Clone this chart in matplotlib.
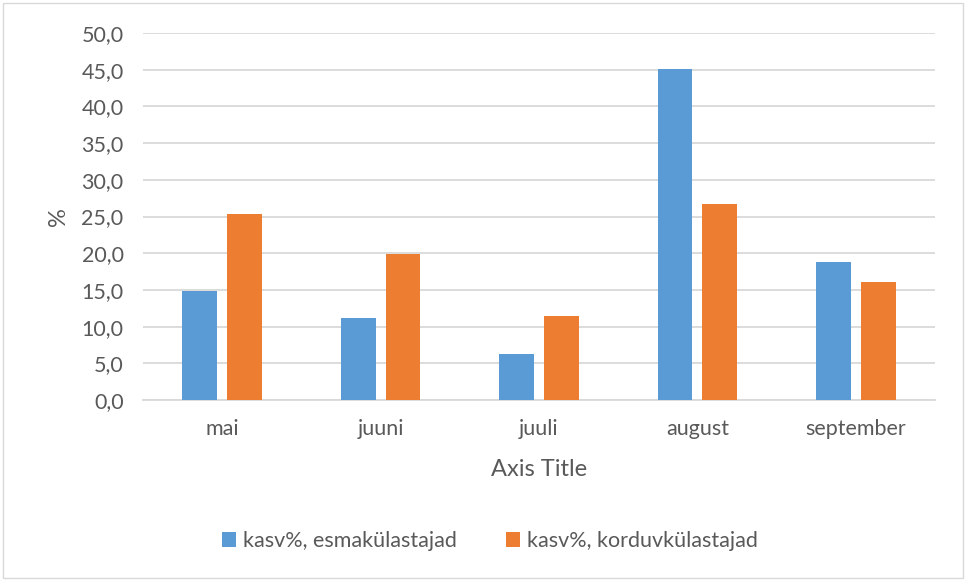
import matplotlib.pyplot as plt
import numpy as np

# Data
months = ['mai', 'juuni', 'juuli', 'august', 'september']
esma = [14.8, 11.2, 6.2, 45.1, 18.8]
kordu = [25.3, 19.9, 11.5, 26.7, 16.1]
series_names = ['kasv%, esmakülastajad', 'kasv%, korduvkülastajad']

blue = '#5b9bd5'
orange = '#ed7d31'
txt = '#595959'
grid = '#d9d9d9'

plt.rcParams['font.family'] = ['Lato', 'DejaVu Sans']

fig = plt.figure(figsize=(9.66, 5.81), dpi=100)
ax = fig.add_axes([143 / 966, 1 - 400 / 581, (935 - 143) / 966, (400 - 33) / 581])

x = np.arange(len(months))
w = 0.22
gap = 0.063
b1 = ax.bar(x - (w + gap) / 2, esma, w, color=blue, label=series_names[0], zorder=3)
b2 = ax.bar(x + (w + gap) / 2, kordu, w, color=orange, label=series_names[1], zorder=3)

ax.set_xlim(-0.5, len(months) - 0.5)
ax.set_ylim(0, 50)
ax.set_yticks(np.arange(0, 51, 5))
ax.set_yticklabels([f'{v:.1f}'.replace('.', ',') for v in np.arange(0, 51, 5)])
ax.set_xticks(x)
ax.set_xticklabels(months)
ax.tick_params(axis='both', length=0, colors=txt, labelsize=15.5)
ax.tick_params(axis='x', pad=14)
ax.tick_params(axis='y', pad=14)

ax.yaxis.grid(True, color=grid, lw=1.3, zorder=0)
for s in ['top', 'right', 'left']:
    ax.spines[s].set_visible(False)
ax.spines['bottom'].set_color(grid)
ax.spines['bottom'].set_linewidth(1.3)

ax.set_xlabel('Axis Title', color=txt, fontsize=17, labelpad=14)
ax.set_ylabel('%', color=txt, fontsize=17, labelpad=9)

fig.legend(handles=[b1, b2], loc='center', bbox_to_anchor=(490 / 966, 1 - 541 / 581),
           ncol=2, frameon=False, fontsize=15.5, labelcolor=txt,
           handlelength=0.65, handleheight=0.65, handletextpad=0.3, columnspacing=2.3)

# chart border
fig.patches.append(plt.Rectangle((3 / 966, 3 / 581), 960 / 966, 575 / 581,
                                 transform=fig.transFigure, fill=False,
                                 edgecolor='#d9d9d9', lw=1))

fig.savefig('out.png', dpi=100)
